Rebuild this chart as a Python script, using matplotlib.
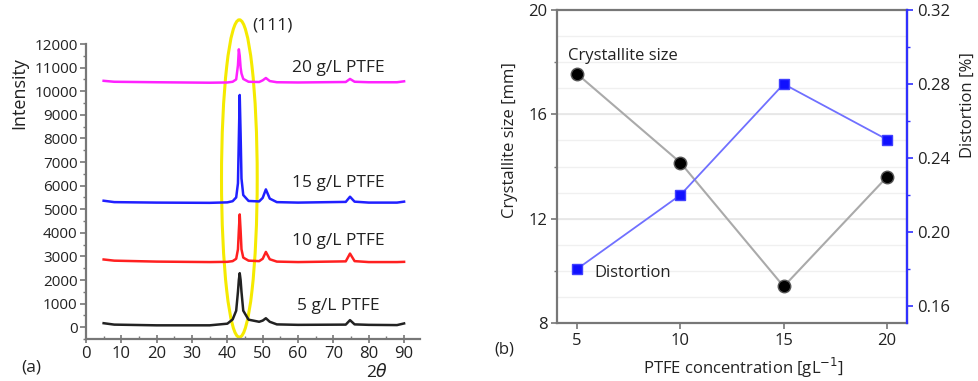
import numpy as np
import matplotlib
matplotlib.use("Agg")
import matplotlib.pyplot as plt
from matplotlib.patches import Ellipse
from matplotlib.ticker import MultipleLocator

plt.rcParams['font.family'] = ['Open Sans', 'DejaVu Sans']

# (a) XRD patterns
two_theta = [5, 8, 20, 35, 40, 41.5, 42.5, 43.0, 43.25, 43.5, 43.75, 44.0, 44.5, 46, 49, 50, 50.9,
             52, 54, 60, 73.5, 74.7, 76, 80, 88, 90]
i_5 = [170, 110, 80, 80, 150, 330, 700, 1500, 2000, 2290, 2000, 1500, 700, 320, 230, 280, 380,
       230, 120, 100, 110, 300, 120, 100, 90, 160]
i_10 = [2870, 2820, 2780, 2760, 2770, 2800, 2900, 3300, 4100, 4780, 4100, 3300, 2950, 2820, 2800, 2900, 3190,
        2880, 2780, 2760, 2790, 3120, 2800, 2760, 2760, 2770]
i_15 = [5360, 5300, 5280, 5270, 5290, 5340, 5500, 6100, 8000, 9840, 8200, 6300, 5600, 5350, 5330, 5480, 5840,
        5450, 5300, 5280, 5310, 5530, 5320, 5280, 5280, 5320]
i_20 = [10440, 10400, 10380, 10360, 10370, 10400, 10500, 11100, 11775, 11500, 11000, 10750, 10520, 10400, 10390, 10460, 10560,
        10430, 10380, 10370, 10390, 10520, 10400, 10380, 10380, 10420]
xrd_labels = ["5 g/L PTFE", "10 g/L PTFE", "15 g/L PTFE", "20 g/L PTFE"]
xrd_colors = ["#222222", "#ff2020", "#2020ff", "#ff22ff"]
label_y = [890, 3650, 6100, 10990]

# (b) crystallite size and distortion
ptfe = [5, 10, 15, 20]
cryst_size = [17.55, 14.15, 9.4, 13.6]
distortion = [0.18, 0.22, 0.28, 0.25]

fig = plt.figure(figsize=(9.79, 3.81), dpi=100)

# ---- panel (a)
ax = fig.add_axes([0.0878, 0.1102, 0.3412, 0.7743])
for ys, c in zip([i_5, i_10, i_15, i_20], xrd_colors):
    ax.plot(two_theta, ys, color=c, lw=1.8)
for lab, ly in zip(xrd_labels, label_y):
    ax.text(71.4, ly, lab, ha='center', va='center', fontsize=12.5, color='#222222')

ell = Ellipse((43.4, 6300), 10.1, 13450, fill=False, edgecolor='#f5ea00', lw=2.2, clip_on=False)
ax.add_patch(ell)
ax.text(47, 12770, "(111)", ha='left', va='center', fontsize=12.5, color='#222222')

ax.set_xlim(0, 94.5)
ax.set_ylim(-500, 12000)
ax.set_xticks(np.arange(0, 91, 10))
ax.set_yticks(np.arange(0, 12001, 1000))
ax.xaxis.set_minor_locator(MultipleLocator(5))
ax.yaxis.set_minor_locator(MultipleLocator(500))
for s in ['top', 'right']:
    ax.spines[s].set_visible(False)
for s in ['left', 'bottom']:
    ax.spines[s].set_color('#777777')
    ax.spines[s].set_linewidth(1.6)
ax.tick_params(which='major', length=4, width=1.2, color='#777777', labelsize=11, labelcolor='#222222', pad=2)
ax.tick_params(which='minor', length=2.5, width=1, color='#777777')
ax.tick_params(axis='x', which='major', direction='inout', length=6, labelsize=12)
ax.tick_params(axis='x', which='minor', direction='in')

fig.text(19 / 979, 1 - 93 / 381, "Intensity", rotation=90, ha='center', va='center', fontsize=13, color='#222222')
fig.text(31 / 979, 1 - 367 / 381, "(a)", ha='center', va='center', fontsize=12.5, color='#222222')
fig.text(377 / 979, 1 - 372 / 381, "2$\\mathit{\\theta}$", ha='center', va='center', fontsize=12.5, color='#222222')

# ---- panel (b)
bx = fig.add_axes([0.5690, 0.1522, 0.3575, 0.8215])
bx.set_xlim(4.03, 20.97)
bx.set_ylim(8, 20)
for yg in np.arange(9, 20, 1):
    bx.axhline(yg, color='#f0f0f0', lw=1, zorder=0)
for yg in [12, 16]:
    bx.axhline(yg, color='#e6e6e6', lw=1.2, zorder=0)
bx.plot(ptfe, cryst_size, color='#aaaaaa', lw=1.5, marker='o', markersize=9,
        markerfacecolor='black', markeredgecolor='#555555', zorder=3)
bx.set_xticks(ptfe)
bx.set_yticks([8, 12, 16, 20])
bx.yaxis.set_minor_locator(MultipleLocator(2))
for s in ['left', 'bottom', 'top', 'right']:
    bx.spines[s].set_color('#777777')
    bx.spines[s].set_linewidth(1.6)
bx.tick_params(which='major', length=4, width=1.2, color='#777777', labelsize=12, labelcolor='#222222', pad=3)
bx.tick_params(which='minor', length=2.5, width=1, color='#777777')

cx = bx.twinx()
cx.set_ylim(0.1508, 0.32)
cx.plot(ptfe, distortion, color='#7070ff', lw=1.3, marker='s', markersize=7,
        markerfacecolor='#1010ff', markeredgecolor='#4040ff', zorder=3)
cx.set_yticks([0.16, 0.20, 0.24, 0.28, 0.32])
cx.set_yticklabels(["0.16", "0.20", "0.24", "0.28", "0.32"])
cx.yaxis.set_minor_locator(MultipleLocator(0.02))
cx.spines['right'].set_color('#3030ff')
cx.spines['right'].set_linewidth(1.6)
for s in ['left', 'bottom', 'top']:
    cx.spines[s].set_visible(False)
cx.tick_params(which='major', length=4, width=1.2, color='#3030ff', labelsize=12, labelcolor='#222222', pad=3)
cx.tick_params(which='minor', length=2.5, width=1, color='#3030ff')

bx.text(4.56, 18.25, "Crystallite size", ha='left', va='center', fontsize=12, color='#222222')
cx.text(5.82, 0.178, "Distortion", ha='left', va='center', fontsize=12, color='#222222')

fig.text(510 / 979, 1 - 140 / 381, "Crystallite size [mm]", rotation=90, ha='center', va='center', fontsize=12, color='#222222')
fig.text(968 / 979, 1 - 105 / 381, "Distortion [%]", rotation=90, ha='center', va='center', fontsize=12, color='#222222')
fig.text(743 / 979, 1 - 368 / 381, "PTFE concentration [gL$^{-1}$]", ha='center', va='center', fontsize=12, color='#222222')
fig.text(504 / 979, 1 - 349 / 381, "(b)", ha='center', va='center', fontsize=12, color='#222222')

plt.savefig("out.png", dpi=100)
